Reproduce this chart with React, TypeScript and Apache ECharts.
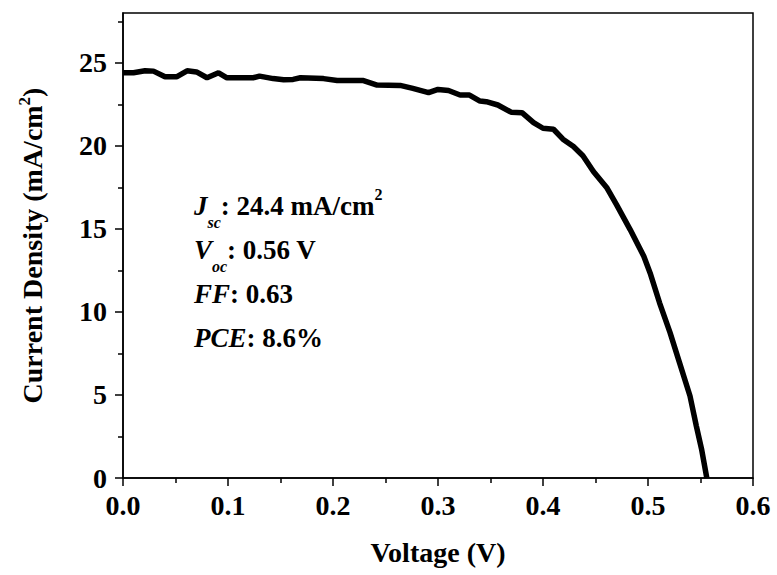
import React, { useEffect, useRef } from 'react';
import * as echarts from 'echarts';

// J–V curve
const voltage = [
  0.0, 0.01, 0.021, 0.029, 0.04, 0.051, 0.061, 0.07, 0.08, 0.091, 0.099, 0.124, 0.13, 0.143,
  0.153, 0.162, 0.169, 0.191, 0.204, 0.229, 0.242, 0.264, 0.276, 0.291, 0.3, 0.31, 0.321, 0.33,
  0.34, 0.346, 0.357, 0.37, 0.38, 0.391, 0.4, 0.41, 0.419, 0.429, 0.438, 0.448, 0.461, 0.47,
  0.483, 0.496, 0.502, 0.511, 0.521, 0.53, 0.54, 0.546, 0.551, 0.556,
];
const current = [
  24.4, 24.4, 24.52, 24.5, 24.16, 24.16, 24.52, 24.45, 24.1, 24.4, 24.1, 24.1, 24.2, 24.05,
  23.98, 24.0, 24.1, 24.05, 23.93, 23.93, 23.66, 23.64, 23.46, 23.2, 23.4, 23.33, 23.06, 23.06,
  22.7, 22.66, 22.46, 22.02, 22.0, 21.4, 21.06, 21.0, 20.4, 19.96, 19.4, 18.46, 17.46, 16.46,
  14.96, 13.35, 12.35, 10.55, 8.75, 6.95, 4.94, 3.14, 1.74, 0.0,
];
const yMajorTicks = [0, 5, 10, 15, 20, 25];
const yMinorTicks = [2.5, 7.5, 12.5, 17.5, 22.5, 27.5];
const annotationLines = [
  '{ji|J}{sub|sc}{b|: 24.4 mA/cm}{sup|2}',
  '{ji|V}{sub|oc}{b|: 0.56 V}',
  '{ji|FF}{b|: 0.63}',
  '{ji|PCE}{b|: 8.6%}',
];

const FONT = '"Liberation Serif", "Times New Roman", serif';

export default function App() {
  const ref = useRef<HTMLDivElement>(null);
  useEffect(() => {
    const chart = echarts.init(ref.current!, null, { renderer: 'svg' });
    const lineStyle = { color: '#000', width: 1.5 };
    const labelStyle = { color: '#000', fontFamily: FONT, fontWeight: 'bold' as const, fontSize: 28 };
    chart.setOption({
      animation: false,
      backgroundColor: '#fff',
      grid: {
        left: 123, right: 24, top: 13, bottom: 97,
        show: true, borderColor: '#000', borderWidth: 1.5, backgroundColor: 'transparent',
      },
      xAxis: {
        type: 'value', min: 0, max: 0.6, interval: 0.1,
        axisLine: { show: true, onZero: false, lineStyle },
        axisTick: { show: true, length: 8, lineStyle },
        minorTick: { show: true, splitNumber: 2, length: 5, lineStyle },
        splitLine: { show: false },
        axisLabel: { ...labelStyle, margin: 13, formatter: (v: number) => v.toFixed(1) },
        name: 'Voltage (V)', nameLocation: 'middle', nameGap: 60,
        nameTextStyle: { ...labelStyle },
      },
      yAxis: [
        {
          type: 'value', min: 0, max: 28, interval: 5, position: 'left',
          axisLine: { show: true, onZero: false, lineStyle },
          axisTick: { show: true, length: 8, lineStyle, customValues: yMajorTicks },
          splitLine: { show: false },
          axisLabel: { ...labelStyle, margin: 16, customValues: yMajorTicks, formatter: (v: number) => String(v) },
          name: '{b|Current Density (mA/cm}{sup|2}{b|)}', nameLocation: 'middle', nameGap: 74,
          nameTextStyle: {
            ...labelStyle,
            rich: {
              b: { ...labelStyle, lineHeight: 34 },
              sup: { ...labelStyle, fontSize: 17, verticalAlign: 'top', height: 18 },
            },
          },
        },
        {
          type: 'value', min: 0, max: 28, interval: 5, position: 'left',
          axisLine: { show: false },
          axisTick: { show: true, length: 5, lineStyle, customValues: yMinorTicks },
          axisLabel: { show: false },
          splitLine: { show: false },
        },
      ],
      series: [
        {
          type: 'line', yAxisIndex: 0,
          data: voltage.map((v, i) => [v, current[i]]),
          symbol: 'none', showSymbol: false, clip: true,
          lineStyle: { color: '#000', width: 5.5 },
        },
      ],
      graphic: [
        {
          type: 'text', left: 194, top: 186,
          style: {
            text: annotationLines.join('\n'),
            fill: '#000',
            font: `bold 27px ${FONT}`,
            rich: {
              ji: { fontFamily: FONT, fontWeight: 'bold', fontStyle: 'italic', fontSize: 27, lineHeight: 44, fill: '#000' },
              b: { fontFamily: FONT, fontWeight: 'bold', fontSize: 27, lineHeight: 44, fill: '#000' },
              sub: { fontFamily: FONT, fontWeight: 'bold', fontStyle: 'italic', fontSize: 16, verticalAlign: 'bottom', height: 11, fill: '#000' },
              sup: { fontFamily: FONT, fontWeight: 'bold', fontSize: 16, verticalAlign: 'top', height: 20, fill: '#000' },
            },
          },
        },
      ],
    });
    return () => chart.dispose();
  }, []);
  return <div ref={ref} style={{ position: 'absolute', left: 0, top: 0, width: 777, height: 575 }} />;
}
